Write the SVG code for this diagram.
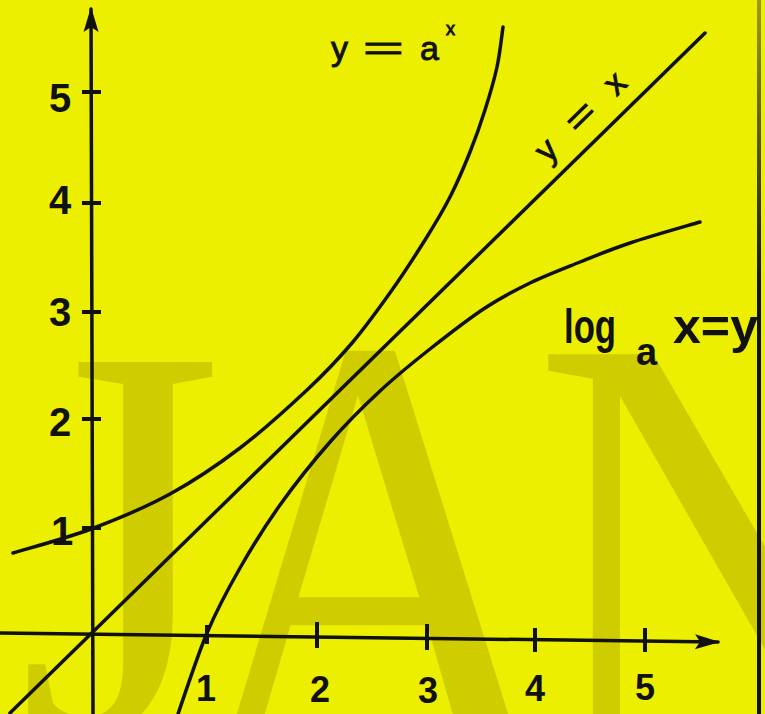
<svg xmlns="http://www.w3.org/2000/svg" width="765" height="714" viewBox="0 0 765 714">
<defs>
<style>
.ax{stroke:#111;stroke-width:3.5;fill:none;stroke-linecap:round}
.tk{stroke:#111;stroke-width:4;fill:none}
.cv{stroke:#111;stroke-width:3.5;fill:none;stroke-linecap:round;stroke-linejoin:round}
.num{font-family:"Liberation Sans",Arial,sans-serif;font-weight:bold;fill:#111;text-anchor:middle}
.lbl{font-family:"Liberation Sans",Arial,sans-serif;fill:#111;stroke:#111;stroke-width:0.9}
.lbb{font-family:"Liberation Sans",Arial,sans-serif;font-weight:bold;fill:#111}
.wm{font-family:"Liberation Serif","Times New Roman",serif;fill:#cfcc00;font-size:530px}
</style>
<marker id="arr" markerUnits="userSpaceOnUse" orient="auto" refX="0" refY="0" markerWidth="30" markerHeight="20" overflow="visible">
<path d="M2,0 L-23,-7.5 L-18,0 L-23,7.5 Z" fill="#111"/>
</marker>
<linearGradient id="edge" x1="0" y1="0" x2="0" y2="714" gradientUnits="userSpaceOnUse">
<stop offset="0" stop-color="#9c9c18"/>
<stop offset="0.4" stop-color="#111"/>
<stop offset="1" stop-color="#111"/>
</linearGradient>
</defs>
<rect width="765" height="714" fill="#ecf000"/>
<g id="watermark">
<text class="wm" transform="translate(17,735) scale(1,1.075)">J</text>
<text class="wm" transform="translate(183,770) scale(1,1.198)">A</text>
<text class="wm" transform="translate(533,770) scale(1,1.198)">N</text>
</g>
<line x1="759" y1="0" x2="759" y2="714" stroke="url(#edge)" stroke-width="4"/>
<g id="axes">
<line class="ax" x1="0" y1="633" x2="718" y2="642" marker-end="url(#arr)"/>
<line class="ax" x1="93" y1="714" x2="91" y2="9" marker-end="url(#arr)"/>
<g id="yticks">
<line class="tk" x1="82" y1="92" x2="101" y2="92"/>
<line class="tk" x1="82" y1="203" x2="101" y2="203"/>
<line class="tk" x1="82" y1="312" x2="101" y2="312"/>
<line class="tk" x1="82" y1="419" x2="101" y2="419"/>
<line class="tk" x1="82" y1="528" x2="101" y2="528"/>
</g>
<g id="xticks">
<line class="tk" x1="207" y1="625" x2="207" y2="644"/>
<line class="tk" x1="317" y1="622" x2="317" y2="648"/>
<line class="tk" x1="427" y1="624" x2="427" y2="650"/>
<line class="tk" x1="535" y1="628" x2="535" y2="652"/>
<line class="tk" x1="645" y1="628" x2="645" y2="652"/>
</g>
</g>
<g id="ylabels">
<text class="num" font-size="40" x="60" y="112">5</text>
<text class="num" font-size="40" x="60" y="214">4</text>
<text class="num" font-size="40" x="60" y="326">3</text>
<text class="num" font-size="40" x="60" y="436">2</text>
<text class="num" font-size="40" x="62" y="545">1</text>
</g>
<g id="xlabels">
<text class="num" font-size="36" x="206" y="701">1</text>
<text class="num" font-size="36" x="320" y="702">2</text>
<text class="num" font-size="36" x="428" y="703">3</text>
<text class="num" font-size="36" x="535" y="701">4</text>
<text class="num" font-size="36" x="645" y="700">5</text>
</g>
<g id="curves">
<line id="line-y-eq-x" class="cv" x1="10" y1="713" x2="705" y2="33"/>
<path id="curve-exp" class="cv" d="M13,553 C26,549 64.8,538.8 91,529 C117.2,519.2 145.2,507.5 170,494 C194.8,480.5 217.2,465.3 240,448 C262.8,430.7 288.3,407.5 307,390 C325.7,372.5 337.8,359.7 352,343 C366.2,326.3 379.8,307.2 392,290 C404.2,272.8 415.3,255.5 425,240 C434.7,224.5 442.5,211.7 450,197 C457.5,182.3 464.2,166.5 470,152 C475.8,137.5 480.5,124.2 485,110 C489.5,95.8 494,80.8 497,67 C500,53.2 502,33.7 503,27"/>
<path id="curve-log" class="cv" d="M178,714 C182.8,700.5 196.7,657.3 207,633 C217.3,608.7 227.8,589.3 240,568 C252.2,546.7 265,526 280,505 C295,484 313.3,461 330,442 C346.7,423 363.3,406.5 380,391 C396.7,375.5 412.5,362.8 430,349 C447.5,335.2 468.3,319 485,308 C501.7,297 514.2,290.7 530,283 C545.8,275.3 563.3,268.7 580,262 C596.7,255.3 610,249.7 630,243 C650,236.3 688.3,225.5 700,222"/>
</g>
<g id="label-exp">
<text class="lbl" font-size="34" x="331" y="60">y</text>
<text class="lbl" font-size="34" x="363" y="60" textLength="41" lengthAdjust="spacingAndGlyphs">=</text>
<text class="lbl" font-size="34" x="420" y="60">a</text>
<text class="lbl" font-size="18" x="446" y="35">x</text>
</g>
<g id="label-id" transform="translate(554,158) rotate(-44.3)">
<text class="lbl" font-size="34" x="0" y="0" text-anchor="middle">y</text>
<text class="lbl" font-size="34" x="33" y="0" textLength="30" lengthAdjust="spacingAndGlyphs">=</text>
<text class="lbl" font-size="34" x="96" y="0" text-anchor="middle">x</text>
</g>
<g id="label-log">
<text class="lbb" font-size="48" x="564" y="343" textLength="52" lengthAdjust="spacingAndGlyphs">log</text>
<text class="lbb" font-size="38" x="636" y="365">a</text>
<text class="lbb" font-size="48" x="673" y="343" textLength="85" lengthAdjust="spacingAndGlyphs">x=y</text>
</g>
</svg>
